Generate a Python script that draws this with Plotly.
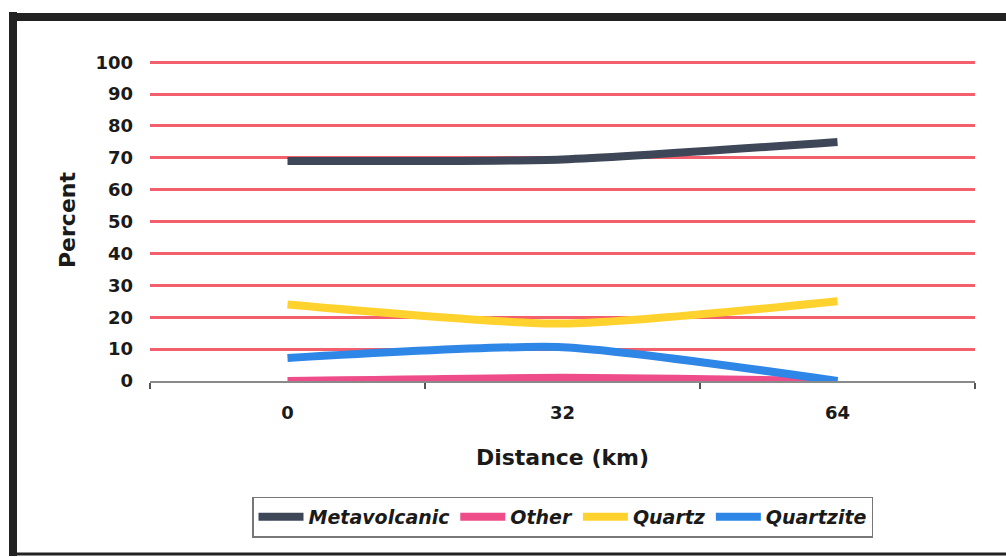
import plotly.graph_objects as go

# Lithology composition along the transect
distance_km = ["0", "32", "64"]
metavolcanic = [69, 69.5, 75]
other = [0, 1, 0]
quartz = [24, 18, 25]
quartzite = [7.2, 10.6, 0]

y_ticks = [0, 10, 20, 30, 40, 50, 60, 70, 80, 90, 100]

series = [
    ("Metavolcanic", metavolcanic, "#3e4758"),
    ("Other", other, "#ef4d89"),
    ("Quartz", quartz, "#ffd22e"),
    ("Quartzite", quartzite, "#2e86e6"),
]

W, H = 1006, 557
L, R, T, B = 150, 31, 59, 176
PW, PH = W - L - R, H - T - B

def px_x(px):
    return (px - L) / PW

def px_y(py):
    return (H - B - py) / PH

FONT = "DejaVu Sans, Liberation Sans, sans-serif"
INK = "#1a1a1a"

fig = go.Figure()
for name, vals, color in series:
    fig.add_trace(go.Scatter(
        x=distance_km, y=vals, name=name, mode="lines",
        line=dict(color=color, width=8, shape="spline", smoothing=0.6),
        cliponaxis=False,
    ))

# Outer frame of the chart
frame = dict(type="line", xref="paper", yref="paper", layer="above")
fig.add_shape(**frame, x0=px_x(13), x1=px_x(13), y0=px_y(12), y1=px_y(556),
              line=dict(color="#222222", width=8))
fig.add_shape(**frame, x0=px_x(9), x1=px_x(1006), y0=px_y(17), y1=px_y(17),
              line=dict(color="#222222", width=8))
fig.add_shape(**frame, x0=px_x(9), x1=px_x(1006), y0=px_y(554), y1=px_y(554),
              line=dict(color="#222222", width=3))

fig.update_layout(
    width=W, height=H,
    margin=dict(l=L, r=R, t=T, b=B),
    paper_bgcolor="white", plot_bgcolor="white",
    font=dict(family=FONT, color=INK),
    showlegend=True,
    legend=dict(
        orientation="h", x=0.5, xanchor="center",
        y=px_y(517), yanchor="middle",
        font=dict(family=FONT, size=19, weight="bold", style="italic", color=INK),
        bordercolor="#777777", borderwidth=1.5, bgcolor="white",
        itemwidth=45, traceorder="normal",
    ),
    xaxis=dict(
        type="category", categoryorder="array", categoryarray=distance_km,
        range=[-0.5, 2.5],
        showgrid=False, zeroline=False,
        showline=True, linecolor="#8a8a8a", linewidth=2,
        ticks="outside", tickson="boundaries", ticklen=6, tickcolor="#555555", tickwidth=1.5,
        ticklabelstandoff=14,
        tickfont=dict(size=18, weight="bold", family=FONT, color=INK),
        title=dict(text="Distance (km)", standoff=28,
                   font=dict(size=22, weight="bold", family=FONT, color=INK)),
    ),
    yaxis=dict(
        range=[0, 101], tickvals=y_ticks, ticktext=[str(v) for v in y_ticks],
        showgrid=True, gridcolor="#f45f6d", gridwidth=2.5,
        zeroline=False, showline=False, ticks="",
        ticklabelstandoff=16,
        tickfont=dict(size=18, weight="bold", family=FONT, color=INK),
        title=dict(text="Percent", standoff=13,
                   font=dict(size=22, weight="bold", family=FONT, color=INK)),
    ),
)

fig.write_html("out.html")
